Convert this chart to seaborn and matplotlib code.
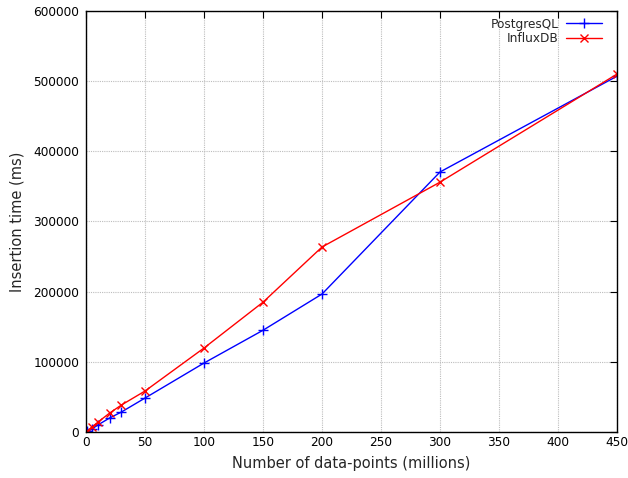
import numpy as np
import pandas as pd
import matplotlib
matplotlib.use("Agg")
import matplotlib.pyplot as plt
import seaborn as sns
from matplotlib.lines import Line2D

points = [1, 5, 10, 20, 30, 50, 100, 150, 200, 300, 450]
postgres = [1000, 4300, 10000, 20000, 28500, 48400, 98300, 145000, 196600, 370500, 507000]
influx = [1500, 7000, 14000, 27000, 38500, 58400, 119700, 185000, 263600, 356000, 510000]

xticks = [0, 50, 100, 150, 200, 250, 300, 350, 400, 450]
yticks = [0, 100000, 200000, 300000, 400000, 500000, 600000]

df_pg = pd.DataFrame({"x": points, "y": postgres})
df_in = pd.DataFrame({"x": points, "y": influx})

sns.set_style("white")
plt.rcParams['font.family'] = ['DejaVu Sans']

fig = plt.figure(figsize=(6.28, 4.78), dpi=100)
ax = fig.add_axes([0.137, 0.0962, 0.8455, 0.881])

sns.lineplot(data=df_pg, x="x", y="y", color="#0000ff", marker="+",
             markeredgecolor="#0000ff", markersize=7, markeredgewidth=1,
             linewidth=1, ax=ax, legend=False)
sns.lineplot(data=df_in, x="x", y="y", color="#ff0000", marker="x",
             markeredgecolor="#ff0000", markersize=5.5, markeredgewidth=1,
             linewidth=1, ax=ax, legend=False)

ax.set_xlim(0, 450)
ax.set_ylim(0, 600000)
ax.set_xticks(xticks)
ax.set_yticks(yticks)
ax.set_xticklabels([str(v) for v in xticks])
ax.set_yticklabels([str(v) for v in yticks])
ax.grid(True, color="#bdbdbd", linestyle=(0, (1, 1)), linewidth=0.8)
ax.tick_params(direction="in", length=5, top=True, right=True, labelsize=8.7,
               colors="black")
ax.tick_params(axis="x", pad=3)
ax.tick_params(axis="y", pad=5)
for s in ax.spines.values():
    s.set_color("black")
    s.set_linewidth(1)
ax.set_xlabel("Number of data-points (millions)", fontsize=10.5, labelpad=5)
ax.set_ylabel("Insertion time (ms)", fontsize=10.5, labelpad=6)

handles = [Line2D([], [], color="#0000ff", marker="+", linewidth=1, markersize=7),
           Line2D([], [], color="#ff0000", marker="x", linewidth=1, markersize=5.5)]
leg = ax.legend(handles, ["PostgresQL", "InfluxDB"], loc="upper right",
                bbox_to_anchor=(0.985, 1.0), frameon=False,
                markerfirst=False, fontsize=8.7, handlelength=3.0, borderaxespad=0.25,
                labelspacing=0.15, handletextpad=0.6, borderpad=0.3)

fig.savefig("out.png", dpi=100)
